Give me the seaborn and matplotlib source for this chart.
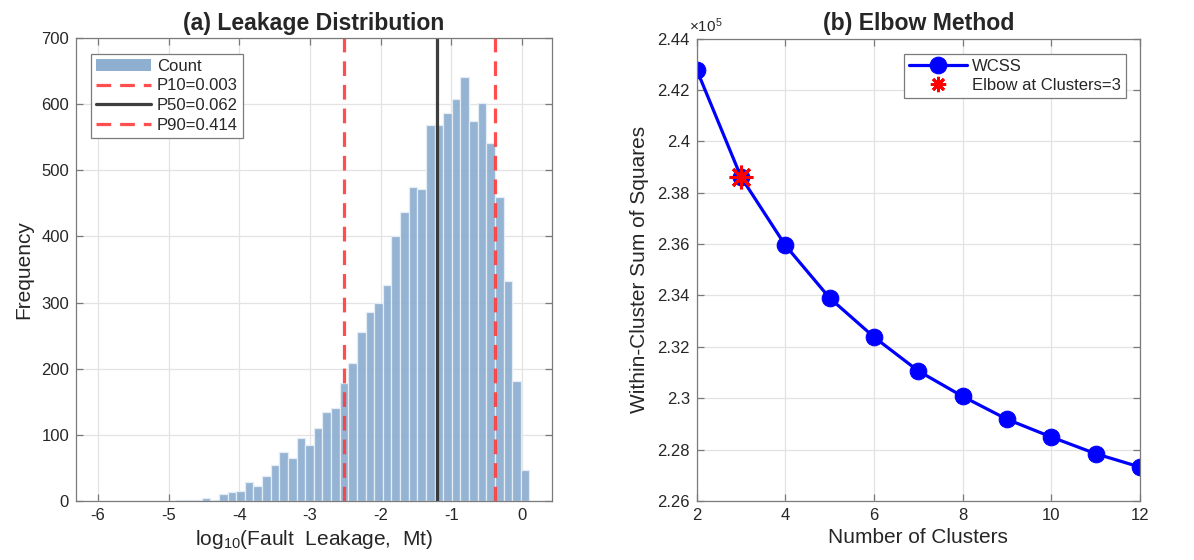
import numpy as np
import pandas as pd
import matplotlib
matplotlib.use("Agg")
import matplotlib.pyplot as plt
import seaborn as sns
from matplotlib.patches import Patch
from matplotlib.legend_handler import HandlerLine2D
from matplotlib.ticker import FuncFormatter, MultipleLocator

# ---------------- data ----------------
bin_start = -4.898
bin_width = 0.122
counts = [2, 1, 2, 4, 2, 10, 13, 15, 29, 22, 38, 54, 74, 65, 95, 85, 111, 134,
          140, 179, 209, 255, 285, 300, 327, 400, 437, 474, 472, 568, 568, 587,
          608, 641, 574, 601, 541, 459, 333, 182, 47]
percentile_labels = ["P10", "P50", "P90"]
percentile_values = [0.003, 0.062, 0.414]

clusters = [2, 3, 4, 5, 6, 7, 8, 9, 10, 11, 12]
wcss = [242790, 238610, 235950, 233900, 232380, 231060, 230070, 229180,
        228490, 227840, 227320]
elbow_k = 3

# ---------------- style ----------------
sns.set_style("white")
plt.rcParams["font.family"] = ["Liberation Sans", "DejaVu Sans"]
plt.rcParams["mathtext.fontset"] = "custom"
plt.rcParams["mathtext.rm"] = "Liberation Sans"
plt.rcParams["mathtext.it"] = "Liberation Sans:italic"
plt.rcParams["mathtext.bf"] = "Liberation Sans:bold"
plt.rcParams["axes.unicode_minus"] = False

text_c = "#262626"
spine_c = "#7a7a7a"
grid_c = "#e3e3e3"

fig = plt.figure(figsize=(11.94, 5.6), dpi=100)
ax1 = fig.add_axes([0.0637, 0.1054, 0.3984, 0.8268])
ax2 = fig.add_axes([0.5835, 0.1054, 0.3713, 0.8257])


def style_axes(ax):
    for s in ax.spines.values():
        s.set_color(spine_c)
        s.set_linewidth(0.9)
        s.set_visible(True)
    ax.tick_params(which="major", direction="in", length=5, width=0.9,
                   color=spine_c, labelsize=12, labelcolor=text_c, top=True,
                   right=True, bottom=True, left=True, pad=5)
    ax.grid(True, color=grid_c, linewidth=0.9)
    ax.set_axisbelow(True)


# ---------------- (a) histogram ----------------
n_bins = len(counts)
bin_end = bin_start + n_bins * bin_width
centers = bin_start + bin_width * (np.arange(n_bins) + 0.5)
hist_df = pd.DataFrame({"logleak": centers, "count": counts})
bar_face = "#8fafd1"
sns.histplot(data=hist_df, x="logleak", weights="count", bins=n_bins,
             binrange=(bin_start, bin_end), ax=ax1, color=bar_face,
             alpha=0.95, edgecolor="#e4ecf5", linewidth=0.9)

line_handles = []
for lab, val in zip(percentile_labels, percentile_values):
    pos = np.log10(val)
    if lab == "P50":
        h = ax1.axvline(pos, color="#333333", lw=2.3, alpha=0.95,
                        label=f"{lab}={val:.3f}")
    else:
        h = ax1.axvline(pos, color="#ff3b3b", lw=2.3, alpha=0.9,
                        dashes=(4.6, 2.8), label=f"{lab}={val:.3f}")
    line_handles.append(h)

style_axes(ax1)
ax1.set_xlim(-6.31, 0.42)
ax1.set_ylim(0, 700)
ax1.xaxis.set_major_locator(MultipleLocator(1))
ax1.yaxis.set_major_locator(MultipleLocator(100))
ax1.set_xlabel(r"log$_{10}$(Fault  Leakage,  Mt)", fontsize=15, color=text_c,
               labelpad=4)
ax1.set_ylabel("Frequency", fontsize=15, color=text_c, labelpad=6)
ax1.set_title("(a) Leakage Distribution", fontsize=16.6, fontweight="bold",
              color=text_c, pad=6)

count_handle = Patch(facecolor=bar_face, edgecolor="none", label="Count")
leg1 = ax1.legend(handles=[count_handle] + line_handles, loc="upper left",
                  bbox_to_anchor=(0.0316, 0.966), fontsize=12,
                  frameon=True, fancybox=False, framealpha=1,
                  edgecolor=spine_c, handlelength=3.3, handletextpad=0.35,
                  labelspacing=0.28, borderpad=0.3, borderaxespad=0)
leg1.get_frame().set_linewidth(0.9)
for t in leg1.get_texts():
    t.set_color(text_c)

# ---------------- (b) elbow ----------------
sns.lineplot(x=clusters, y=wcss, ax=ax2, color="blue", lw=2.3, marker="o",
             markersize=12, markeredgecolor="blue", markerfacecolor="blue",
             label="WCSS")
elbow_val = wcss[clusters.index(elbow_k)]
star, = ax2.plot([elbow_k], [elbow_val], ls="none", marker=(8, 2, 0),
                 markersize=17, markeredgewidth=2.2, color="red",
                 label=f"Elbow at Clusters={elbow_k}")

style_axes(ax2)
ax2.set_xlim(2, 12)
ax2.set_ylim(226000, 244000)
ax2.xaxis.set_major_locator(MultipleLocator(2))
ax2.yaxis.set_major_locator(MultipleLocator(2000))
ax2.yaxis.set_major_formatter(FuncFormatter(lambda v, p: f"{v / 1e5:g}"))
ax2.set_xlabel("Number of Clusters", fontsize=15, color=text_c, labelpad=4)
ax2.set_ylabel("Within-Cluster Sum of Squares", fontsize=15, color=text_c,
               labelpad=6)
ax2.set_title("(b) Elbow Method", fontsize=16.6, fontweight="bold",
              color=text_c, pad=6)
ax2.text(-0.018, 1.008, r"×10$^{5}$", transform=ax2.transAxes, ha="left",
         va="bottom", fontsize=11, color=text_c)


def small_star(legend_handle, orig_handle):
    legend_handle.update_from(orig_handle)
    legend_handle.set_markersize(11)
    legend_handle.set_markeredgewidth(2.0)


leg2 = ax2.legend(loc="upper right", bbox_to_anchor=(0.968, 0.966),
                  fontsize=12, frameon=True, fancybox=False, framealpha=1,
                  edgecolor=spine_c, handlelength=3.5, handletextpad=0.3,
                  labelspacing=0.2, borderpad=0.3, borderaxespad=0,
                  handler_map={star: HandlerLine2D(update_func=small_star)})
leg2.get_frame().set_linewidth(0.9)
for t in leg2.get_texts():
    t.set_color(text_c)

fig.savefig("out.png", dpi=100)
